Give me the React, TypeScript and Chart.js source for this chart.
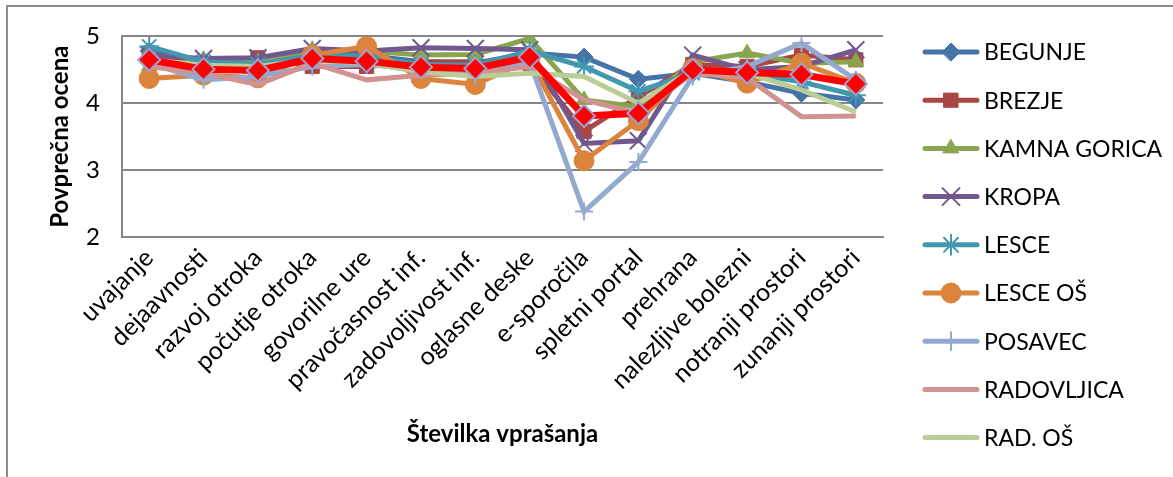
import React, { useEffect, useRef } from 'react';
import { Chart, registerables } from 'chart.js';
import { drawPoint } from 'chart.js/helpers';

Chart.register(...registerables);

const categories = [
  'uvajanje', 'dejaavnosti', 'razvoj otroka', 'počutje otroka', 'govorilne ure',
  'pravočasnost inf.', 'zadovoljivost inf.', 'oglasne deske', 'e-sporočila',
  'spletni portal', 'prehrana', 'nalezljive bolezni', 'notranji prostori', 'zunanji prostori',
];

const yTicks = [2, 3, 4, 5];

const begunje = [4.78, 4.62, 4.6, 4.75, 4.72, 4.62, 4.6, 4.75, 4.69, 4.36, 4.45, 4.32, 4.15, 4.05];
const brezje = [4.75, 4.55, 4.68, 4.55, 4.55, 4.62, 4.62, 4.6, 3.58, 4.1, 4.58, 4.55, 4.72, 4.65];
const kamnaGorica = [4.55, 4.65, 4.62, 4.8, 4.78, 4.72, 4.73, 4.97, 4.05, 3.95, 4.62, 4.75, 4.6, 4.62];
const kropa = [4.72, 4.67, 4.68, 4.82, 4.78, 4.83, 4.82, 4.8, 3.4, 3.44, 4.72, 4.5, 4.55, 4.8];
const lesce = [4.85, 4.62, 4.58, 4.72, 4.7, 4.58, 4.57, 4.78, 4.55, 4.18, 4.45, 4.45, 4.32, 4.12];
const lesceOs = [4.37, 4.42, 4.38, 4.72, 4.85, 4.37, 4.28, 4.65, 3.14, 3.74, 4.52, 4.3, 4.6, 4.3];
const posavec = [4.6, 4.35, 4.4, 4.55, 4.58, 4.5, 4.42, 4.62, 2.38, 3.12, 4.4, 4.55, 4.9, 4.35];
const radovljica = [4.55, 4.45, 4.28, 4.6, 4.35, 4.42, 4.45, 4.55, 4.05, 3.85, 4.45, 4.38, 3.8, 3.81];
const radOs = [4.65, 4.57, 4.55, 4.65, 4.6, 4.47, 4.4, 4.45, 4.4, 4.0, 4.5, 4.45, 4.2, 3.87];
const skupaj = [4.65, 4.51, 4.49, 4.67, 4.63, 4.54, 4.52, 4.69, 3.81, 3.85, 4.5, 4.46, 4.43, 4.29];

const FONT = 'Lato, "Open Sans", sans-serif';

export default function App() {
  const ref = useRef<HTMLCanvasElement>(null);

  useEffect(() => {
    document.body.style.margin = '0';
    document.body.style.overflow = 'hidden';
    if (!ref.current) return;

    const mk = (label: string, data: number[], color: string, pointStyle: any, radius: number, pbw = 1, extra: any = {}) => ({
      label,
      data,
      borderColor: color,
      backgroundColor: color,
      borderWidth: 5,
      pointStyle,
      pointRadius: radius,
      pointHoverRadius: radius,
      pointBackgroundColor: color,
      pointBorderColor: color,
      pointBorderWidth: pbw,
      tension: 0,
      ...extra,
    });

    const datasets: any[] = [
      mk('BEGUNJE', begunje, '#4572A7', 'rectRot', 9),
      mk('BREZJE', brezje, '#AA4643', 'rect', 10),
      mk('KAMNA GORICA', kamnaGorica, '#89A54E', 'triangle', 9),
      mk('KROPA', kropa, '#71588F', 'crossRot', 12, 2),
      mk('LESCE', lesce, '#4198AF', 'star', 10, 2),
      mk('LESCE OŠ', lesceOs, '#DB843D', 'circle', 10),
      mk('POSAVEC', posavec, '#93A9CF', 'cross', 9, 2),
      mk('RADOVLJICA', radovljica, '#D19392', 'circle', 0),
      mk('RAD. OŠ', radOs, '#B9CD96', 'circle', 0),
      mk('SKUPAJ', skupaj, '#FF0000', 'rectRot', 11, 2, {
        borderWidth: 7,
        pointBorderColor: '#9E9ECF',
        hideInLegend: true,
      }),
    ];
    const n = datasets.length;
    datasets.forEach((d, i) => { d.order = n - i; });

    const legendPlugin = {
      id: 'customLegend',
      afterDraw(chart: any) {
        const ctx = chart.ctx;
        ctx.save();
        chart.data.datasets.forEach((ds: any, i: number) => {
          if (ds.hideInLegend) return;
          const y = 52 + i * 48.2;
          ctx.strokeStyle = ds.borderColor;
          ctx.lineWidth = ds.borderWidth;
          ctx.lineCap = 'round';
          ctx.beginPath();
          ctx.moveTo(925, y);
          ctx.lineTo(977, y);
          ctx.stroke();
          if (ds.pointRadius > 0) {
            ctx.fillStyle = ds.pointBackgroundColor;
            ctx.strokeStyle = ds.pointBorderColor;
            ctx.lineWidth = ds.pointBorderWidth;
            drawPoint(ctx, { pointStyle: ds.pointStyle, radius: ds.pointRadius, rotation: 0, borderWidth: ds.pointBorderWidth }, 951, y);
          }
          ctx.fillStyle = '#000';
          ctx.font = `23px ${FONT}`;
          ctx.textBaseline = 'middle';
          ctx.textAlign = 'left';
          ctx.fillText(ds.label, 984, y + 1);
        });
        ctx.restore();
      },
    };

    const chart = new Chart(ref.current, {
      type: 'line',
      data: { labels: categories, datasets },
      plugins: [legendPlugin],
      options: {
        animation: false,
        responsive: false,
        maintainAspectRatio: false,
        layout: { padding: { top: 35, right: 290, left: 0, bottom: 0 } },
        plugins: { legend: { display: false }, tooltip: { enabled: false }, title: { display: false } },
        scales: {
          x: {
            type: 'category',
            offset: true,
            grid: { display: false, drawTicks: false },
            border: { display: true, color: '#868686', width: 2 },
            ticks: {
              font: { family: FONT, size: 25 },
              color: '#000',
              maxRotation: 45,
              minRotation: 45,
              autoSkip: false,
              padding: 6,
            },
            title: {
              display: true,
              text: 'Številka vprašanja',
              color: '#000',
              font: { family: FONT, size: 24, weight: 'bold' },
              padding: { top: 0, bottom: 28 },
            },
            afterFit: (s: any) => { s.height = 477 - 237; },
          },
          y: {
            min: 2,
            max: 5,
            afterBuildTicks: (s: any) => { s.ticks = yTicks.map((v) => ({ value: v })); },
            ticks: { font: { family: FONT, size: 24 }, color: '#000', padding: 22 },
            grid: { color: '#868686', lineWidth: 2, drawTicks: false },
            border: { display: true, color: '#868686', width: 2 },
            title: {
              display: true,
              text: 'Povprečna ocena',
              color: '#000',
              font: { family: FONT, size: 24, weight: 'bold' },
              padding: { top: 46, bottom: 0 },
            },
            afterFit: (s: any) => { s.width = 122; },
          },
        },
      } as any,
    });
    return () => chart.destroy();
  }, []);

  return (
    <div style={{ position: 'relative', width: 1173, height: 477, overflow: 'hidden', background: '#fff' }}>
      <div style={{ position: 'absolute', left: 6, top: 5, width: 1200, height: 520, border: '2px solid #8C8C8C', boxSizing: 'border-box' }} />
      <canvas ref={ref} width={1173} height={477} style={{ position: 'absolute', left: 0, top: 0 }} />
    </div>
  );
}
